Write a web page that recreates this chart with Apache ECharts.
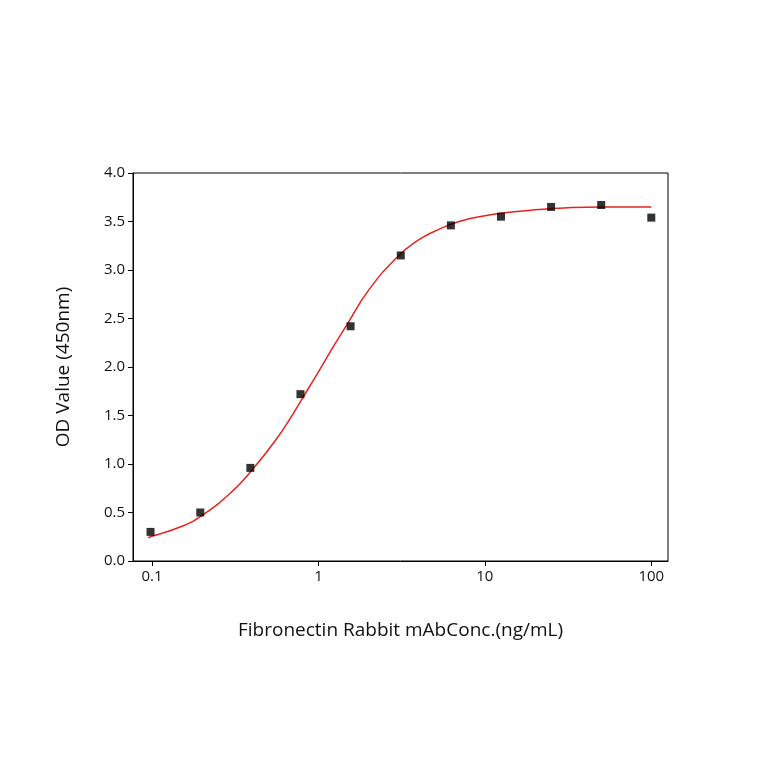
<!DOCTYPE html><html><head><meta charset="utf-8">
<script src="https://cdn.jsdelivr.net/npm/echarts@6/dist/echarts.min.js"></script>
<style>html,body{margin:0;background:#fff}#c{width:764px;height:764px}</style></head><body><div id="c"></div>
<script>
const concX=[0.098,0.195,0.39,0.78,1.56,3.125,6.25,12.5,25,50,100];
const odY=[0.30,0.50,0.96,1.72,2.42,3.15,3.46,3.55,3.65,3.67,3.54];
const fitX=[0.095,0.1,0.15,0.2,0.3,0.4,0.55,0.7,0.85,1,1.25,1.5,2,3,4,5,7,10,15,20,30,50,100];
const fitY=[0.24,0.255,0.355,0.47,0.71,0.94,1.24,1.51,1.75,1.95,2.23,2.45,2.79,3.14,3.31,3.40,3.50,3.56,3.60,3.62,3.64,3.65,3.65];
const xTicks=[0.1,1,10,100];
const font='"Open Sans", "Liberation Sans", sans-serif';
const c=echarts.init(document.getElementById('c'));
c.setOption({animation:false,
grid:{left:133,right:96,top:173,bottom:203,show:true,borderColor:'#000',borderWidth:1},
xAxis:{type:'log',logBase:10,min:0.0769,max:126,name:'Fibronectin Rabbit mAbConc.(ng/mL)',nameLocation:'middle',nameGap:60,
 nameTextStyle:{fontSize:19,fontFamily:font,color:'#111'},
 axisLine:{lineStyle:{color:'#000'}},splitLine:{show:false},minorTick:{show:false},
 axisTick:{customValues:xTicks,inside:false,length:5,lineStyle:{color:'#000'}},
 axisLabel:{customValues:xTicks,fontSize:15,fontFamily:font,color:'#111',formatter:v=>String(v)}},
yAxis:{type:'value',min:0,max:4,interval:0.5,name:'OD Value (450nm)',nameLocation:'middle',nameGap:60,
 nameTextStyle:{fontSize:19,fontFamily:font,color:'#111'},
 axisLine:{show:true,lineStyle:{color:'#000'}},splitLine:{show:false},
 axisTick:{show:true,length:5,lineStyle:{color:'#000'}},
 axisLabel:{fontSize:15,fontFamily:font,color:'#111',formatter:v=>v.toFixed(1)}},
series:[
 {type:'line',data:fitX.map((x,i)=>[x,fitY[i]]),smooth:true,showSymbol:false,lineStyle:{color:'#e8231f',width:1.5},z:2},
 {type:'scatter',data:concX.map((x,i)=>[x,odY[i]]),symbol:'rect',symbolSize:8,itemStyle:{color:'#000'},z:3}
]});
</script></body></html>
